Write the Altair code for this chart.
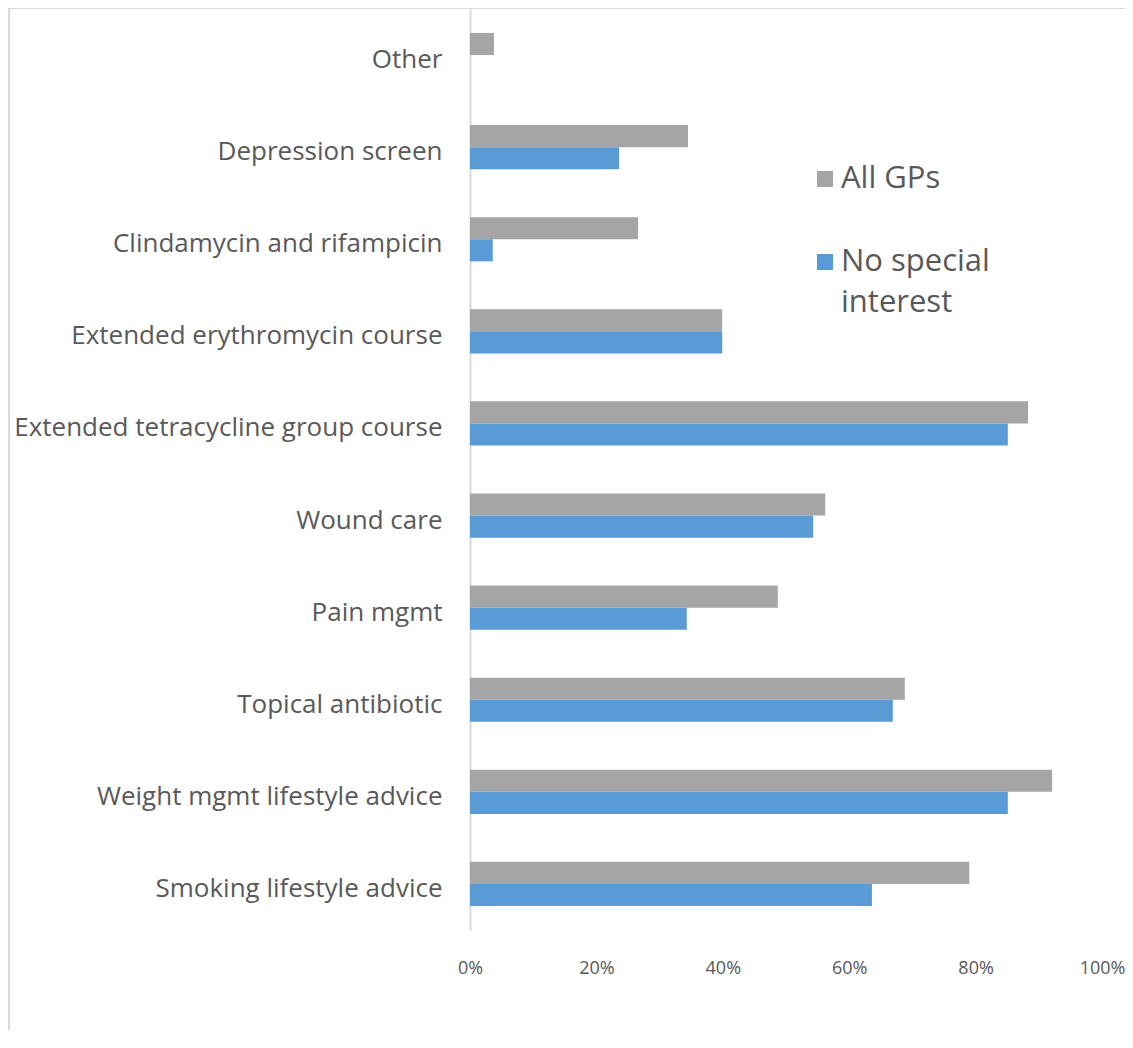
import altair as alt
import pandas as pd

categories = [
    "Other",
    "Depression screen",
    "Clindamycin and rifampicin",
    "Extended erythromycin course",
    "Extended tetracycline group course",
    "Wound care",
    "Pain mgmt",
    "Topical antibiotic",
    "Weight mgmt lifestyle advice",
    "Smoking lifestyle advice",
]
series = ["All GPs", "No special interest"]
legend_lines = [["All GPs"], ["No special", "interest"]]
all_gps = [0.038, 0.345, 0.266, 0.399, 0.883, 0.562, 0.487, 0.688, 0.921, 0.790]
no_special = [0.0, 0.236, 0.036, 0.399, 0.851, 0.543, 0.343, 0.669, 0.851, 0.636]
colors = ["#A5A5A5", "#5B9BD5"]
x_ticks = [0, 0.2, 0.4, 0.6, 0.8, 1.0]

rows = []
for c, a, n in zip(categories, all_gps, no_special):
    rows.append({"category": c, "series": series[0], "value": a})
    rows.append({"category": c, "series": series[1], "value": n})
df = pd.DataFrame(rows)

FONT = "Open Sans"
TXT = "#595959"

bars = alt.Chart(df).mark_bar().encode(
    x=alt.X(
        "value:Q",
        scale=alt.Scale(domain=[0, 1], nice=False),
        axis=alt.Axis(
            format=".0%", values=x_ticks, grid=False, domain=False, ticks=False,
            labelFontSize=18, labelColor=TXT, labelFont=FONT, labelPadding=29,
            title=None, labelFlush=False,
        ),
    ),
    y=alt.Y(
        "category:N",
        sort=categories,
        scale=alt.Scale(paddingInner=0.52, paddingOuter=0.26),
        axis=alt.Axis(
            title=None, ticks=False, domainColor="#D9D9D9", domainWidth=2,
            labelFontSize=26, labelColor=TXT, labelFont=FONT, labelPadding=28,
            labelLimit=700, labelOffset=5,
        ),
    ),
    yOffset=alt.YOffset("series:N", sort=series, scale=alt.Scale(paddingInner=0, paddingOuter=0)),
    color=alt.Color(
        "series:N",
        sort=series,
        scale=alt.Scale(domain=series, range=colors),
        legend=None,
    ),
)

one = pd.DataFrame({"k": [0]})

# manual legend (placement only; labels and colours from the series lists)
legend_layers = []
legend_y = [170, 253]
for name, lines, col, ly in zip(series, legend_lines, colors, legend_y):
    sym = alt.Chart(one).mark_square(size=256, color=col, opacity=1).encode(
        x=alt.value(355), y=alt.value(ly)
    )
    txt = alt.Chart(one).mark_text(
        align="left", baseline="top", fontSize=31, font=FONT, color=TXT, lineHeight=41
    ).encode(x=alt.value(371), y=alt.value(ly - 15), text=alt.value(lines if len(lines) > 1 else lines[0]))
    legend_layers += [sym, txt]

left_border = alt.Chart(one).mark_rule(color="#D9D9D9", strokeWidth=2).encode(
    x=alt.value(-461), y=alt.value(-1), y2=alt.value(1100)
)
top_border = alt.Chart(one).mark_rule(color="#D9D9D9", strokeWidth=2).encode(
    x=alt.value(-461), x2=alt.value(700), y=alt.value(-1)
)

chart = alt.layer(bars, *legend_layers, left_border, top_border).properties(
    width=632, height=921,
    autosize=alt.AutoSizeParams(type="none"),
    padding={"left": 462, "top": 1, "right": 23, "bottom": 100},
).configure(background="white").configure_view(stroke=None)

chart.save("out.html", embed_options={"renderer": "svg", "actions": False})
